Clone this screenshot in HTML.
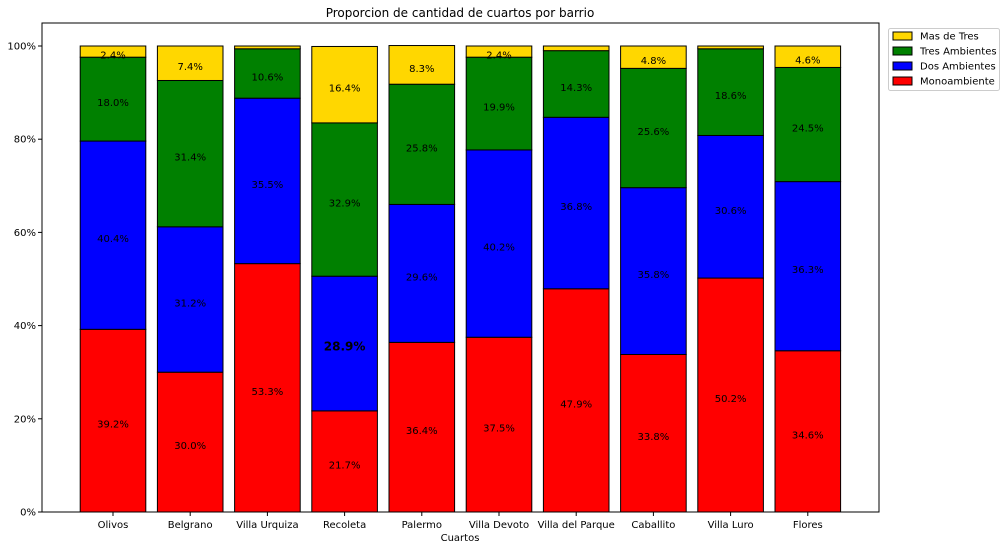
<!DOCTYPE html>
<html><head><meta charset="utf-8"><style>
body{margin:0;background:#fff;font-family:"DejaVu Sans","Liberation Sans",sans-serif}
svg{display:block}
</style></head><body>
<svg id="chart" width="1007" height="550" xmlns="http://www.w3.org/2000/svg">
<text x="460" y="17" font-size="12" text-anchor="middle">Proporcion de cantidad de cuartos por barrio</text>
<g id="bars"></g>
<g id="axes"></g>
</svg>
<script>
const categories=["Olivos","Belgrano","Villa Urquiza","Recoleta","Palermo","Villa Devoto","Villa del Parque","Caballito","Villa Luro","Flores"];
const mono=[39.2,30.0,53.3,21.7,36.4,37.5,47.9,33.8,50.2,34.6];
const dos=[40.4,31.2,35.5,28.9,29.6,40.2,36.8,35.8,30.6,36.3];
const tres=[18.0,31.4,10.6,32.9,25.8,19.9,14.3,25.6,18.6,24.5];
const mas=[2.4,7.4,0.6,16.4,8.3,2.4,1.0,4.8,0.6,4.6];
const yTicks=[0,20,40,60,80,100];
const seriesNames=["Monoambiente","Dos Ambientes","Tres Ambientes","Mas de Tres"];
const seriesColors=["#ff0000","#0000ff","#008000","#ffd700"];
const series=[mono,dos,tres,mas];

const NS="http://www.w3.org/2000/svg";
const L=42,R=879,T=23,B=512;
const yS=v=>B-v*4.66;
const step=77.2, x0=113;
const xS=i=>x0+i*step;
const bw=65.6;
function mk(tag,attrs,parent){const e=document.createElementNS(NS,tag);for(const k in attrs)e.setAttribute(k,attrs[k]);parent.appendChild(e);return e;}
const gb=document.getElementById('bars'), ga=document.getElementById('axes'), svg=document.getElementById('chart');

categories.forEach((c,i)=>{
  let base=0;
  series.forEach((s,k)=>{
    const v=s[i];
    const r=mk('rect',{x:xS(i)-bw/2,y:yS(base+v),width:bw,height:v*4.66,fill:seriesColors[k],stroke:'#000','stroke-width':1},gb);
    
    
    if(v>=2){
      const bold=(k===1&&i===3);
      const t=mk('text',{x:xS(i),y:yS(base+v/2)+7,'font-size':bold?12:10,'font-weight':bold?'bold':'normal','text-anchor':'middle',fill:'#000'},gb);
      t.textContent=v.toFixed(1)+'%';
      
      
    }
    base+=v;
  });
  const tk=mk('line',{x1:xS(i),x2:xS(i),y1:B,y2:B+4,stroke:'#000'},ga);
  
  
  const tl=mk('text',{x:xS(i),y:B+16,'font-size':10,'text-anchor':'middle'},ga);
  tl.textContent=c;
  
  
});
yTicks.forEach(v=>{
  const tk=mk('line',{x1:L-4,x2:L,y1:yS(v),y2:yS(v),stroke:'#000'},ga);
  
  
  const tl=mk('text',{x:L-6,y:yS(v)+3.5,'font-size':10,'text-anchor':'end'},ga);
  tl.textContent=v+'%';
  
  
});
const frame=mk('rect',{x:L,y:T,width:R-L,height:B-T,fill:'none',stroke:'#000','stroke-width':1},ga);


const xt=mk('text',{x:460,y:541,'font-size':10,'text-anchor':'middle'},ga);
xt.textContent='Cuartos';



const lg=mk('g',{},svg);


mk('rect',{x:888.5,y:28.5,width:111,height:62,rx:2,fill:'#fff',stroke:'#ccc'},lg);
[3,2,1,0].forEach((k,j)=>{
  const y=36+j*15;
  const sw=mk('rect',{x:893,y:y-4,width:19,height:8,fill:seriesColors[k],stroke:'#000','stroke-width':1},lg);
  
  
  const t=mk('text',{x:920,y:y+3.5,'font-size':10},lg);
  t.textContent=seriesNames[k];
  
  
});
</script>
</body></html>
